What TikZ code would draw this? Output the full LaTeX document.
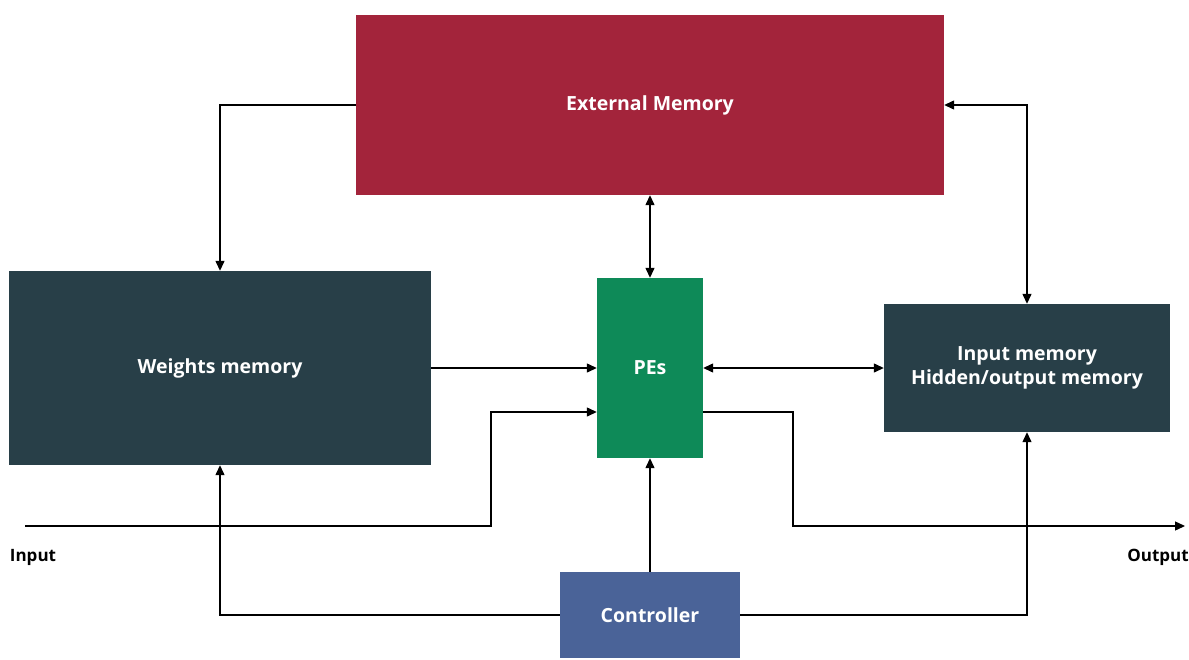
\documentclass[tikz,border=0pt]{standalone}
\usepackage{fontspec}
\setmainfont{Open Sans}
\usetikzlibrary{arrows.meta}
\definecolor{extred}{HTML}{A3243B}
\definecolor{slate}{HTML}{283F48}
\definecolor{pegreen}{HTML}{0E8A58}
\definecolor{ctrlblue}{HTML}{4A6398}
\tikzset{
  block/.style={draw=none, text=white, font=\bfseries\fontsize{19.5}{24}\selectfont, align=center, inner sep=0pt},
  link/.style={draw=black, line width=1.3pt, -{Triangle[length=10pt,width=9pt]}},
  biLink/.style={draw=black, line width=1.3pt, {Triangle[length=10pt,width=9pt]}-{Triangle[length=10pt,width=9pt]}},
  tag/.style={font=\bfseries\fontsize{17}{20}\selectfont, inner sep=0pt}
}
\begin{document}
\begin{tikzpicture}[x=1pt,y=-1pt]
\useasboundingbox[fill=white] (0,0) rectangle (1189,659);
% blocks
\node[block, fill=extred, minimum width=588pt, minimum height=180pt] (ext) at (650,105) {External Memory};
\node[block, fill=slate, minimum width=422pt, minimum height=194pt] (wm) at (220,368) {Weights memory};
\node[block, fill=pegreen, minimum width=106pt, minimum height=180pt] (pe) at (650,368) {PEs};
\node[block, fill=slate, minimum width=286pt, minimum height=128pt] (im) at (1027,368) {Input memory\\Hidden/output memory};
\node[block, fill=ctrlblue, minimum width=180pt, minimum height=86pt] (ctrl) at (650,615) {Controller};
% free ends and bends
\coordinate (inStart) at (25,526);
\coordinate (outEnd) at (1185,526);
\node[tag] (inLbl) at (33,557) {Input};
\node[tag] (outLbl) at (1158,557) {Output};
% connectors
\draw[link] (ext.west) -| (wm.north);
\draw[biLink] (ext.south) -- (pe.north);
\draw[biLink] (ext.east) -| (im.north);
\draw[link] (wm.east) -- (pe.west);
\draw[biLink] (pe.east) -- (im.west);
\draw[link] (inStart) -- (491,526) -- (491,412) -- (pe.west |- 0,412);
\draw[link] (pe.east |- 0,412) -- (793,412) -- (793,526) -- (outEnd);
\draw[link] (ctrl.north) -- (pe.south);
\draw[link] (ctrl.west) -| (wm.south);
\draw[link] (ctrl.east) -| (im.south);
\end{tikzpicture}
\end{document}
